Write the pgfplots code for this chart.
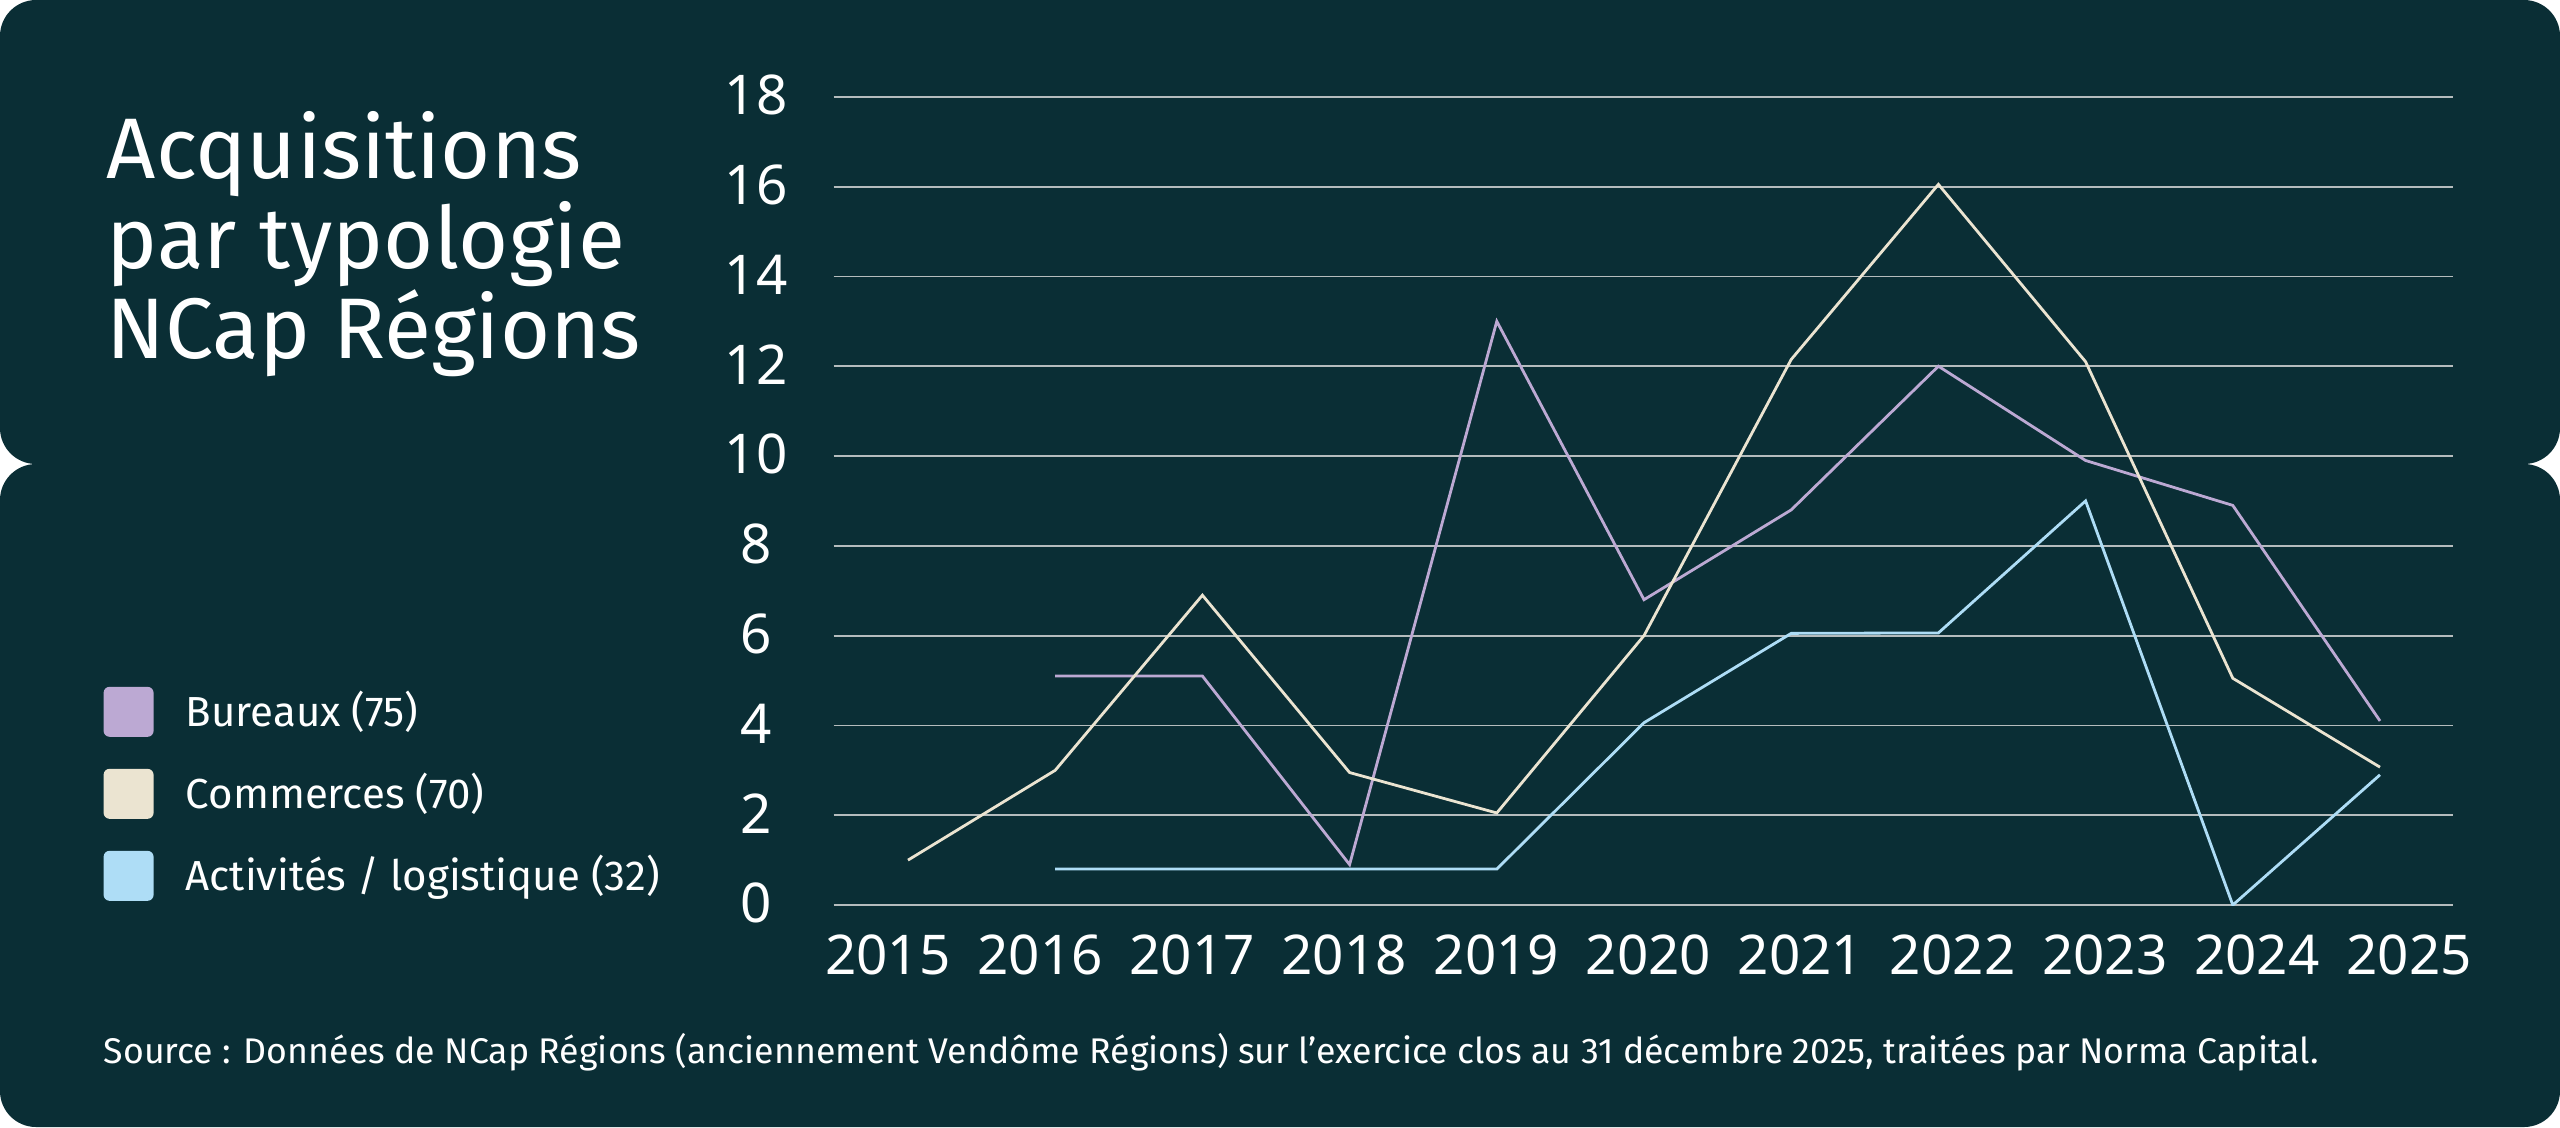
\documentclass[border=0pt]{standalone}
\usepackage{fontspec}
\setmainfont{Fira Sans}
\newfontfamily\tickfont{Noto Sans}
\usepackage{pgfplots}
\pgfplotsset{compat=1.18}

\definecolor{bg}{HTML}{0A2E35}
\definecolor{gridc}{HTML}{B5BCBD}
\definecolor{bureaux}{HTML}{BCA9D3}
\definecolor{commerces}{HTML}{EBE4D1}
\definecolor{activites}{HTML}{AEDDF6}

\begin{document}
\begin{tikzpicture}
\useasboundingbox (0,0) rectangle (640pt,-281.75pt);
% two stacked panels
\fill[bg, rounded corners=9pt] (0,0) rectangle (640pt,-116pt);
\fill[bg, rounded corners=9pt] (0,-116pt) rectangle (640pt,-281.75pt);

% title
\begin{scope}[every node/.style={anchor=base west, inner sep=0pt, text=white, font=\fontsize{21.5}{24}\selectfont}]
\node at (26.5pt,-44.65pt) {Acquisitions};
\node at (26.5pt,-67.15pt) {par typologie};
\node at (26.5pt,-89.65pt) {NCap Régions};
\end{scope}

% legend
\fill[bureaux, rounded corners=1.5pt] (25.9pt,-171.7pt) rectangle (38.4pt,-184.2pt);
\fill[commerces, rounded corners=1.5pt] (25.9pt,-192.2pt) rectangle (38.4pt,-204.7pt);
\fill[activites, rounded corners=1.5pt] (25.9pt,-212.7pt) rectangle (38.4pt,-225.2pt);
\begin{scope}[every node/.style={anchor=base west, inner sep=0pt, text=white, font=\fontsize{10.5}{12}\selectfont}]
\node at (46.25pt,-181.5pt) {Bureaux (75)};
\node at (46.25pt,-202pt) {Commerces (70)};
\node at (46.25pt,-222.5pt) {Activités / logistique (32)};
\end{scope}

% source
\node[anchor=base west, inner sep=0pt, text=white, font=\fontsize{8.92}{11}\selectfont] at (25.75pt,-265.75pt)
  {Source : Données de NCap Régions (anciennement Vendôme Régions) sur l’exercice clos au 31 décembre 2025, traitées par Norma Capital.};

\begin{axis}[
  at={(208.4pt,-226.25pt)}, anchor=south west,
  width=404.85pt, height=202.05pt, scale only axis,
  xmin=2014.4946, xmax=2025.496, ymin=0, ymax=18,
  axis line style={draw=none},
  major tick style={draw=none},
  ytick={0,2,...,18},
  ymajorgrids, grid style={gridc, line width=0.45pt},
  xtick={2014.864,2015.897,2016.931,2017.964,2018.997,2020.031,2021.064,2022.097,2023.130,2024.164,2025.197},
  xticklabels={2015,2016,2017,2018,2019,2020,2021,2022,2023,2024,2025},
  /pgf/number format/assume math mode=true,
  tick label style={text=white, font=\tickfont\fontsize{13.7}{16}\selectfont},
  xticklabel style={anchor=base, yshift=-17.25pt},
  yticklabel style={anchor=center, xshift=-19.4pt, yshift=0.5pt},
  every axis plot/.append style={line width=0.7pt, mark=none},
]
\addplot[bureaux] coordinates {
(2016,5.1) (2017,5.1) (2018,0.9) (2019,13) (2020,6.8) (2021,8.8)
(2022,12) (2023,9.9) (2024,8.9) (2025,4.1)
};
\addplot[commerces] coordinates {
(2015,1) (2016,3) (2017,6.9) (2018,2.95) (2019,2.05) (2020,6)
(2021,12.15) (2022,16.05) (2023,12.1) (2024,5.05) (2025,3.07)
};
\addplot[activites] coordinates {
(2016,0.8) (2017,0.8) (2018,0.8) (2019,0.8) (2020,4.06) (2021,6.05)
(2022,6.06) (2023,9) (2024,0) (2025,2.9)
};
\end{axis}
\end{tikzpicture}
\end{document}
